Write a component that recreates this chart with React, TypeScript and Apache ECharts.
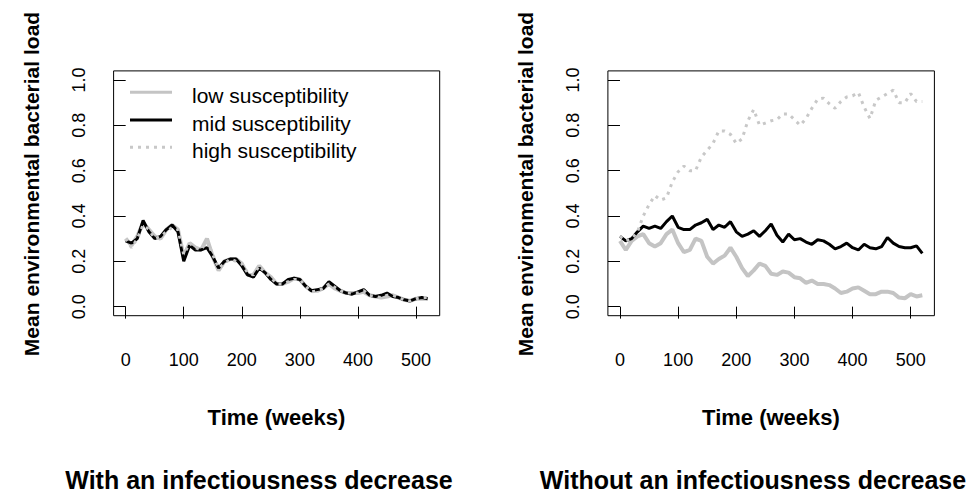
import React, { useEffect, useRef } from "react";
import * as echarts from "echarts";

const weeks = [0, 10, 20, 30, 40, 50, 60, 70, 80, 90, 100, 110, 120, 130, 140, 150, 160, 170, 180, 190, 200, 210, 220, 230, 240, 250, 260, 270, 280, 290, 300, 310, 320, 330, 340, 350, 360, 370, 380, 390, 400, 410, 420, 430, 440, 450, 460, 470, 480, 490, 500, 510, 520];

// Left panel: with an infectiousness decrease
const leftLow = [0.30, 0.27, 0.31, 0.37, 0.34, 0.31, 0.30, 0.34, 0.36, 0.34, 0.22, 0.28, 0.26, 0.25, 0.30, 0.22, 0.16, 0.20, 0.21, 0.21, 0.19, 0.14, 0.14, 0.18, 0.15, 0.13, 0.10, 0.10, 0.11, 0.125, 0.12, 0.09, 0.07, 0.07, 0.08, 0.10, 0.08, 0.07, 0.06, 0.06, 0.06, 0.065, 0.05, 0.045, 0.04, 0.045, 0.05, 0.04, 0.03, 0.025, 0.035, 0.035, 0.035];
const leftMid = [0.29, 0.28, 0.30, 0.38, 0.33, 0.30, 0.31, 0.34, 0.36, 0.33, 0.20, 0.27, 0.25, 0.25, 0.26, 0.22, 0.17, 0.20, 0.21, 0.21, 0.18, 0.14, 0.13, 0.17, 0.15, 0.12, 0.10, 0.10, 0.12, 0.125, 0.12, 0.09, 0.07, 0.075, 0.08, 0.11, 0.09, 0.07, 0.06, 0.055, 0.065, 0.075, 0.05, 0.045, 0.05, 0.06, 0.045, 0.04, 0.03, 0.025, 0.035, 0.04, 0.035];
const leftHigh = [0.30, 0.26, 0.30, 0.36, 0.34, 0.30, 0.31, 0.33, 0.35, 0.34, 0.23, 0.28, 0.26, 0.25, 0.29, 0.23, 0.17, 0.19, 0.21, 0.20, 0.19, 0.15, 0.14, 0.18, 0.15, 0.13, 0.10, 0.10, 0.11, 0.12, 0.12, 0.09, 0.065, 0.07, 0.08, 0.10, 0.085, 0.07, 0.06, 0.06, 0.06, 0.07, 0.05, 0.045, 0.04, 0.05, 0.05, 0.04, 0.03, 0.025, 0.035, 0.04, 0.04];

// Right panel: without an infectiousness decrease
const rightLow = [0.29, 0.25, 0.29, 0.31, 0.32, 0.28, 0.265, 0.28, 0.32, 0.34, 0.28, 0.24, 0.25, 0.30, 0.29, 0.22, 0.19, 0.21, 0.225, 0.26, 0.22, 0.17, 0.135, 0.16, 0.19, 0.18, 0.145, 0.14, 0.155, 0.15, 0.13, 0.125, 0.105, 0.115, 0.10, 0.10, 0.095, 0.08, 0.06, 0.066, 0.08, 0.085, 0.07, 0.055, 0.055, 0.066, 0.066, 0.06, 0.04, 0.037, 0.055, 0.045, 0.05];
const rightMid = [0.31, 0.29, 0.30, 0.33, 0.355, 0.345, 0.355, 0.345, 0.375, 0.40, 0.35, 0.34, 0.34, 0.36, 0.37, 0.385, 0.34, 0.36, 0.35, 0.375, 0.33, 0.31, 0.32, 0.335, 0.31, 0.335, 0.365, 0.315, 0.285, 0.32, 0.295, 0.30, 0.285, 0.275, 0.295, 0.29, 0.275, 0.255, 0.265, 0.28, 0.26, 0.25, 0.275, 0.26, 0.255, 0.265, 0.305, 0.28, 0.265, 0.26, 0.26, 0.268, 0.235];
const rightHigh = [0.31, 0.29, 0.30, 0.33, 0.40, 0.45, 0.49, 0.47, 0.48, 0.55, 0.595, 0.62, 0.60, 0.60, 0.66, 0.69, 0.72, 0.775, 0.775, 0.76, 0.72, 0.74, 0.82, 0.87, 0.80, 0.81, 0.82, 0.825, 0.85, 0.85, 0.825, 0.80, 0.83, 0.875, 0.915, 0.92, 0.895, 0.875, 0.905, 0.925, 0.93, 0.945, 0.88, 0.83, 0.91, 0.925, 0.94, 0.955, 0.90, 0.90, 0.94, 0.905, 0.905];

const xTicks = [0, 100, 200, 300, 400, 500];
const yTicks = [0, 0.2, 0.4, 0.6, 0.8, 1.0];
const seriesNames = ["low susceptibility", "mid susceptibility", "high susceptibility"];
const panelTitles = ["With an infectiousness decrease", "Without an infectiousness decrease"];
const xTitle = "Time (weeks)";
const yTitle = "Mean environmental bacterial load";

const FONT = '"Liberation Sans", Arial, Helvetica, sans-serif';

const styles = [
  { color: "#c4c4c4", width: 4, type: "solid" as any },
  { color: "#000000", width: 3, type: "solid" as any },
  { color: "#c8c8c8", width: 3, type: [3, 5] as any },
];

const panels = [
  { left: 113.6, width: 326.1, data: [leftLow, leftMid, leftHigh], yTitleX: 31, xTitleX: 276.5, titleX: 259 },
  { left: 607.9, width: 326.5, data: [rightLow, rightMid, rightHigh], yTitleX: 525, xTitleX: 771, titleX: 753 },
];

const GRID_TOP = 70.9;
const GRID_H = 244.8;

export default function App() {
  const ref = useRef<HTMLDivElement>(null);
  useEffect(() => {
    if (!ref.current) return;
    const chart = echarts.init(ref.current, undefined, { renderer: "svg" });

    const grid = panels.map((p) => ({
      left: p.left,
      top: GRID_TOP,
      width: p.width,
      height: GRID_H,
      show: true,
      borderColor: "#000",
      borderWidth: 1,
      backgroundColor: "transparent",
      containLabel: false,
    }));

    const xAxis = panels.map((_, i) => ({
      type: "value",
      gridIndex: i,
      min: -20.8,
      max: 540.8,
      axisLine: { show: false },
      splitLine: { show: false },
      axisTick: { show: true, length: 12, lineStyle: { color: "#000", width: 1 }, customValues: xTicks },
      axisLabel: { customValues: xTicks, fontSize: 18, color: "#000", margin: 35, fontFamily: FONT },
    }));

    const yAxis = panels.map((_, i) => ({
      type: "value",
      gridIndex: i,
      min: -0.04,
      max: 1.04,
      axisLine: { show: false },
      splitLine: { show: false },
      axisTick: { show: true, length: 12, lineStyle: { color: "#000", width: 1 }, customValues: yTicks },
      axisLabel: {
        customValues: yTicks,
        fontSize: 18,
        color: "#000",
        margin: 26,
        rotate: 90,
        fontFamily: FONT,
        formatter: (v: number) => v.toFixed(1),
      },
    }));

    const series: any[] = [];
    panels.forEach((p, pi) => {
      p.data.forEach((vals, si) => {
        series.push({
          type: "line",
          name: seriesNames[si],
          xAxisIndex: pi,
          yAxisIndex: pi,
          showSymbol: false,
          symbol: "none",
          silent: true,
          z: 2 + si,
          data: weeks.map((w, k) => [w, vals[k]]),
          lineStyle: { color: styles[si].color, width: styles[si].width, type: styles[si].type, cap: "butt" },
        });
      });
    });

    const graphic: any[] = [];
    panels.forEach((p) => {
      graphic.push({
        type: "text",
        x: p.yTitleX,
        y: 184,
        rotation: Math.PI / 2,
        style: { text: yTitle, fontSize: 21, fontWeight: "bold", fontFamily: FONT, fill: "#000", align: "center", verticalAlign: "middle" },
      });
      graphic.push({
        type: "text",
        x: p.xTitleX,
        y: 417,
        style: { text: xTitle, fontSize: 22, fontWeight: "bold", fontFamily: FONT, fill: "#000", align: "center", verticalAlign: "middle" },
      });
    });
    panels.forEach((p, i) => {
      graphic.push({
        type: "text",
        x: p.titleX,
        y: 480,
        style: { text: panelTitles[i], fontSize: 25, fontWeight: "bold", fontFamily: FONT, fill: "#000", align: "center", verticalAlign: "middle" },
      });
    });
    const legendY = [92.3, 120, 147.3];
    seriesNames.forEach((name, i) => {
      graphic.push({
        type: "line",
        shape: { x1: 130, y1: legendY[i], x2: 172, y2: legendY[i] },
        style: {
          stroke: styles[i].color,
          lineWidth: 3,
          lineDash: Array.isArray(styles[i].type) ? styles[i].type : null,
        },
        z: 10,
      });
      graphic.push({
        type: "text",
        x: 192,
        y: legendY[i] + 3,
        style: { text: name, fontSize: 21, fontFamily: FONT, fill: "#000", align: "left", verticalAlign: "middle" },
        z: 10,
      });
    });

    chart.setOption({
      animation: false,
      backgroundColor: "#fff",
      grid,
      xAxis,
      yAxis,
      series,
      graphic,
    } as any);

    return () => chart.dispose();
  }, []);

  return <div ref={ref} style={{ position: "fixed", left: 0, top: 0, width: 970, height: 495 }} />;
}
